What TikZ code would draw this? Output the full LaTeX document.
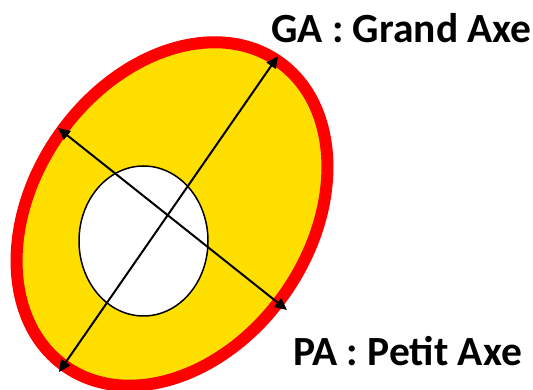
\documentclass[tikz,border=0pt]{standalone}
\usepackage{fontspec}
\setmainfont{Carlito}
\usetikzlibrary{arrows.meta}
\definecolor{eyellow}{HTML}{FFDF00}
\definecolor{ered}{HTML}{FF0000}
\tikzset{
  axisarrow/.style={line width=2pt,{Triangle[length=12pt,width=11pt]}-{Triangle[length=12pt,width=11pt]}},
  label/.style={anchor=base west,inner sep=0pt,font=\fontsize{41.5}{41.5}\selectfont\bfseries}
}
\begin{document}
\begin{tikzpicture}[x=1pt,y=1pt]
\useasboundingbox (0,0) rectangle (533,390);
\draw[line width=12pt,ered,fill=eyellow,rotate around={55:(172,176)}] (172,176) ellipse [x radius=186pt, y radius=138pt];
\draw[line width=1.5pt,fill=white] (143.5,149) ellipse [x radius=64.5pt, y radius=75pt];
\coordinate (gaA) at (59,18);
\coordinate (gaB) at (278,334);
\coordinate (paA) at (58,262);
\coordinate (paB) at (287,80);
\draw[axisarrow] (gaA) -- (gaB);
\draw[axisarrow] (paA) -- (paB);
\node[label] (ga) at (271,347) {GA : Grand Axe};
\node[label] (pa) at (293,24) {PA : Petit Axe};
\end{tikzpicture}
\end{document}
